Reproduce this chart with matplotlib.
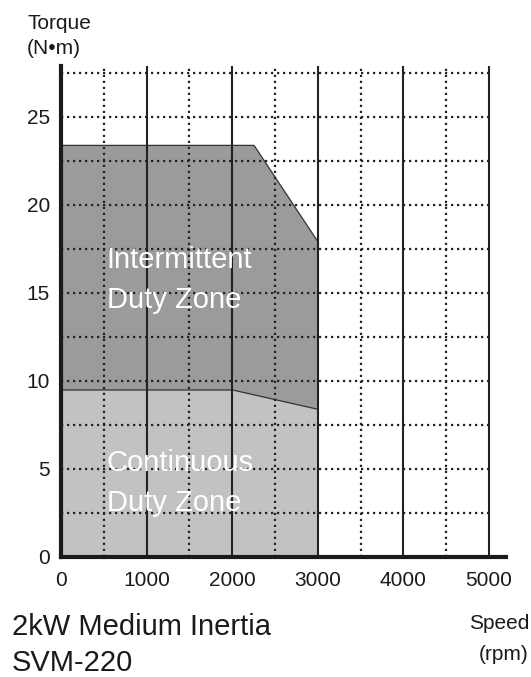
import matplotlib
matplotlib.use("Agg")
import matplotlib.pyplot as plt

plt.rcParams['font.family'] = ['Liberation Sans', 'DejaVu Sans']

# zone boundaries
intermittent_speed = [0, 2250, 3000]
intermittent_torque = [23.4, 23.4, 17.9]
continuous_speed = [0, 2000, 3000]
continuous_torque = [9.5, 9.5, 8.4]

x_ticks = [0, 1000, 2000, 3000, 4000, 5000]
x_minor = [500, 1500, 2500, 3500, 4500]
y_ticks = [0, 5, 10, 15, 20, 25]
y_grid = [2.5, 5, 7.5, 10, 12.5, 15, 17.5, 20, 22.5, 25, 27.5]

W, H = 531, 677
fig = plt.figure(figsize=(W / 100, H / 100), dpi=100)
ax = fig.add_axes([61 / W, 1 - 556.7 / H, (506 - 61) / W, (556.7 - 65.7) / H])
ax.set_xlim(0, 5200)
ax.set_ylim(0, 27.9)

# zones
ax.fill_between(intermittent_speed, 0, intermittent_torque, color='#9b9b9b',
                edgecolor='#333333', linewidth=0.9, zorder=1)
ax.fill_between(continuous_speed, 0, continuous_torque, color='#c2c2c2',
                edgecolor='#333333', linewidth=0.9, zorder=2)

# grid
dot = (0, (1, 1.7))
for y in y_grid:
    ax.plot([0, 5030], [y, y], color='#222222', lw=1.6, ls=dot, zorder=3)
for x in x_minor:
    ax.plot([x, x], [0, 27.9], color='#222222', lw=1.6, ls=dot, zorder=3)
for x in x_ticks[1:]:
    ax.plot([x, x], [0, 27.9], color='#222222', lw=1.5, zorder=4)

for s in ['top', 'right']:
    ax.spines[s].set_visible(False)
for s in ['left', 'bottom']:
    ax.spines[s].set_linewidth(3)
    ax.spines[s].set_color('#1a1a1a')
    ax.spines[s].set_zorder(5)

ax.set_xticks(x_ticks)
ax.set_yticks(y_ticks)
ax.tick_params(length=0, labelsize=15, colors='#1a1a1a')
ax.tick_params(axis='x', pad=10)
ax.tick_params(axis='y', pad=8)

ax.text(535, 15.7, "Intermittent\nDuty Zone", color='white', fontsize=21,
        ha='left', va='center', linespacing=1.55, zorder=6)
ax.text(535, 4.2, "Continuous\nDuty Zone", color='white', fontsize=21,
        ha='left', va='center', linespacing=1.55, zorder=6)

fig.text(27 / W, 1 - 36 / H, "Torque\n(N\u2022m)", fontsize=15, ha='left',
         va='center', linespacing=1.4, color='#1a1a1a')
fig.text(529 / W, 1 - 639 / H, "Speed\n(rpm)", fontsize=15, ha='right',
         va='center', linespacing=1.8, color='#1a1a1a')
fig.text(12 / W, 1 - 645 / H, "2kW Medium Inertia\nSVM-220", fontsize=21,
         ha='left', va='center', linespacing=1.38, color='#1a1a1a')

fig.savefig("out.png", dpi=100)
